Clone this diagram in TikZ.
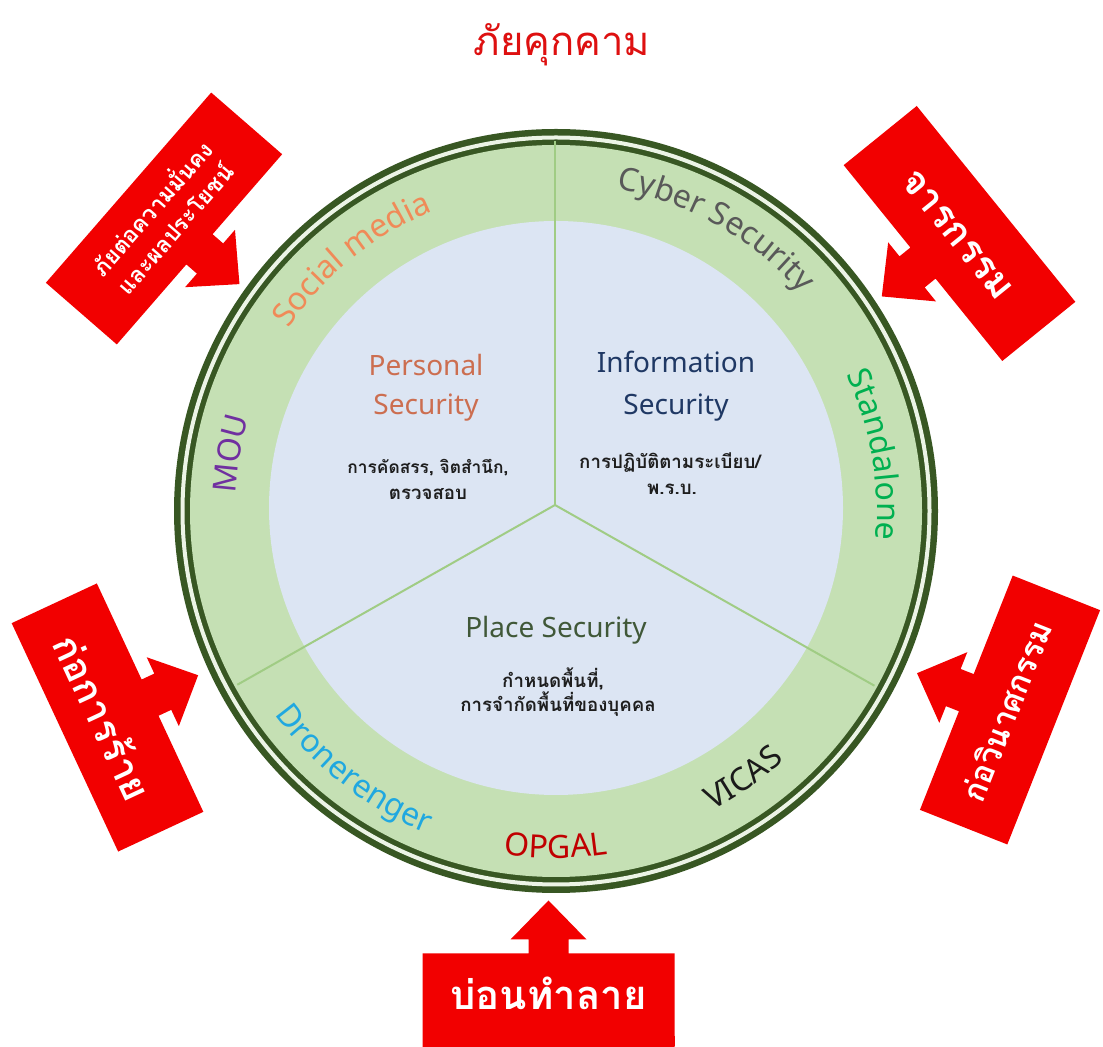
\documentclass[tikz,border=0pt]{standalone}
\usepackage{fontspec}
\setmainfont{Noto Sans}
\newfontfamily\thai[Script=Thai]{Loma}
\usetikzlibrary{decorations.text,calc}
\definecolor{ringdark}{RGB}{56,87,35}
\definecolor{ringgap}{RGB}{236,244,230}
\definecolor{bandgreen}{RGB}{197,224,180}
\definecolor{innerblue}{RGB}{220,229,243}
\definecolor{dividerc}{RGB}{160,204,132}
\definecolor{threatred}{RGB}{242,0,0}
\definecolor{titlered}{RGB}{222,16,16}
\definecolor{socialc}{RGB}{240,138,88}
\definecolor{cyberc}{RGB}{89,89,89}
\definecolor{standc}{RGB}{0,176,80}
\definecolor{mouc}{RGB}{112,48,160}
\definecolor{dronec}{RGB}{32,168,224}
\definecolor{opgalc}{RGB}{192,0,0}
\definecolor{vicasc}{RGB}{26,26,26}
\definecolor{persc}{RGB}{204,110,80}
\definecolor{infoc}{RGB}{31,56,100}
\definecolor{placec}{RGB}{64,88,56}
\definecolor{thaidark}{RGB}{30,30,30}
\newcommand\ringfont{\fontsize{24}{28}\selectfont}
\tikzset{
  ringtext/.style={decorate, decoration={text along path, text align=center}},
  divider/.style={draw=dividerc, line width=1.5pt},
  seclabel/.style={font=\fontsize{21}{25}\selectfont, anchor=base, inner sep=0pt},
  thsmall/.style={font=\thai\bfseries\fontsize{14}{17}\selectfont, anchor=base, text=thaidark, inner sep=0pt},
  threattext/.style={text=white, font=\thai\bfseries\fontsize{30}{34}\selectfont, align=center, inner sep=0pt},
  threatbox/.pic={\fill[threatred] (-126,-47) -- (126,-47) -- (126,47) -- (20,47) -- (20,61) -- (38,61) -- (0,100) -- (-38,61) -- (-20,61) -- (-20,47) -- (-126,47) -- cycle;}
}
\begin{document}
\begin{tikzpicture}[x=0.75pt,y=0.75pt]
\useasboundingbox (0,0) rectangle (1103,1046);
\fill[white] (0,0) rectangle (1103,1046);
\coordinate (C) at (556,535);
\coordinate (I) at (556,538);
\coordinate (J) at (555,541);
% ring
\fill[ringdark] (C) circle[radius=382];
\draw[ringgap, line width=3pt] (C) circle[radius=373.5];
\fill[bandgreen] (C) circle[radius=366];
\fill[innerblue] (I) circle[radius=287];
% dividers
\coordinate (dtop) at ($(J)+(90:364)$);
\coordinate (dleft) at ($(J)+(209.5:365)$);
\coordinate (dright) at ($(J)+(330.5:367)$);
\draw[divider] (J) -- (dtop);
\draw[divider] (J) -- (dleft);
\draw[divider] (J) -- (dright);
% ring texts (top: clockwise, bottom: counter-clockwise)
\path[ringtext, decoration={text={|\ringfont\color{socialc}|Social media}}] ($(C)+(170:324)$) arc[start angle=170, end angle=88, radius=324];
\path[ringtext, decoration={text={|\ringfont\color{cyberc}|Cyber Security}}] ($(C)+(102:328)$) arc[start angle=102, end angle=19, radius=328];
\path[ringtext, decoration={text={|\ringfont\color{standc}|Standalone}}] ($(C)+(50:321)$) arc[start angle=50, end angle=-30, radius=321];
\path[ringtext, decoration={text={|\ringfont\color{mouc}|MOU}}] ($(C)+(200:321)$) arc[start angle=200, end angle=140, radius=321];
\path[ringtext, decoration={text={|\ringfont\color{dronec}|Dronerenger}}] ($(C)+(-170:347)$) arc[start angle=-170, end angle=-86, radius=347];
\path[ringtext, decoration={text={|\ringfont\color{opgalc}|OPGAL}}] ($(C)+(-125:347)$) arc[start angle=-125, end angle=-55, radius=347];
\path[ringtext, decoration={text={|\ringfont\color{vicasc}|VICAS}}] ($(C)+(-90:338)$) arc[start angle=-90, end angle=-20, radius=338];
% inner texts
\node[seclabel, text=persc] (pers1) at (426,670) {Personal};
\node[seclabel, text=persc] (pers2) at (426,631) {Security};
\node[thsmall, font=\thai\bfseries\fontsize{13}{16}\selectfont] (pers3) at (428,572) {การคัดสรร, จิตสำนึก,};
\node[thsmall] (pers4) at (428,546) {ตรวจสอบ};
\node[seclabel, text=infoc] (info1) at (676,673) {Information};
\node[seclabel, text=infoc] (info2) at (676,631) {Security};
\node[thsmall] (info3) at (670,577) {การปฏิบัติตามระเบียบ/};
\node[thsmall] (info4) at (672,551) {พ.ร.บ.};
\node[seclabel, text=placec] (place1) at (556,408) {Place Security};
\node[thsmall] (place2) at (553,358) {กำหนดพื้นที่,};
\node[thsmall] (place3) at (558,334) {การจำกัดพื้นที่ของบุคคล};
% title
\node[text=titlered, font=\thai\fontsize{30}{36}\selectfont, inner sep=0pt] (title) at (562,1001) {ภัยคุกคาม};
% threat callouts
\pic[rotate=-131] (cb1) at (164,827.5) {threatbox};
\node[threattext, rotate=49, font=\thai\bfseries\fontsize{17}{23}\selectfont] (t1) at (162,829) {ภัยต่อความมั่นคง\\และผลประโยชน์};
\pic[rotate=129] (cb2) at (959.5,812.5) {threatbox};
\node[threattext, rotate=-51, font=\thai\bfseries\fontsize{29}{34}\selectfont] (t2) at (957,811) {จารกรรม};
\pic[rotate=-65] (cb3) at (107.5,328.5) {threatbox};
\node[threattext, rotate=-65, font=\thai\bfseries\fontsize{29}{34}\selectfont] (t3) at (104,329) {ก่อการร้าย};
\pic[rotate=68.4] (cb4) at (1010,336) {threatbox};
\node[threattext, rotate=68.4, font=\thai\bfseries\fontsize{24}{28}\selectfont] (t4) at (1006,335) {ก่อวินาศกรรม};
\pic (cb5) at (548.5,45.5) {threatbox};
\fill[threatred] (422.5,0) rectangle (674.5,10);
\node[threattext] (t5) at (548.5,53) {บ่อนทำลาย};
\end{tikzpicture}
\end{document}
